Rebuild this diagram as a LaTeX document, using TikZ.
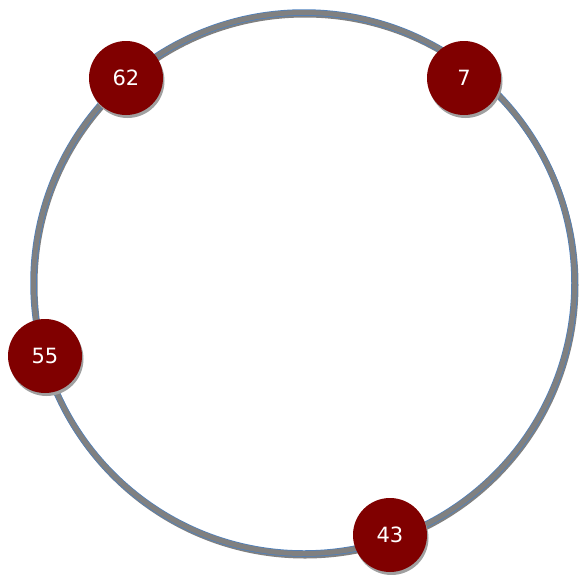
\documentclass[tikz,border=0pt]{standalone}
\usepackage{fontspec}
\setmainfont{DejaVu Sans}
\definecolor{ringgray}{HTML}{808080}
\definecolor{ringblue}{HTML}{4F81BD}
\definecolor{nodered}{HTML}{800000}
\definecolor{shadowgray}{HTML}{A0A0A0}
\tikzset{
  peer/.style={circle, fill=nodered, minimum size=74pt, inner sep=0pt, text=white,
    font=\fontsize{21}{25}\selectfont,
    preaction={fill=shadowgray, transform canvas={shift={(1.5pt,-3pt)}}}},
}
\begin{document}
\begin{tikzpicture}[x=1pt,y=-1pt]
\useasboundingbox (0,0) rectangle (579,574);
% ring
\draw[ringgray, line width=6pt] (305,285) circle (270.5);
\draw[ringblue, line width=6.5pt] (304,283) circle (270.5);
\draw[ringgray, line width=5pt] (304,283) circle (270.5);
% nodes
\node[peer] (n62) at (126,78) {62};
\node[peer] (n7) at (464,78) {7};
\node[peer] (n55) at (45,356) {55};
\node[peer] (n43) at (390,535) {43};
\end{tikzpicture}
\end{document}
